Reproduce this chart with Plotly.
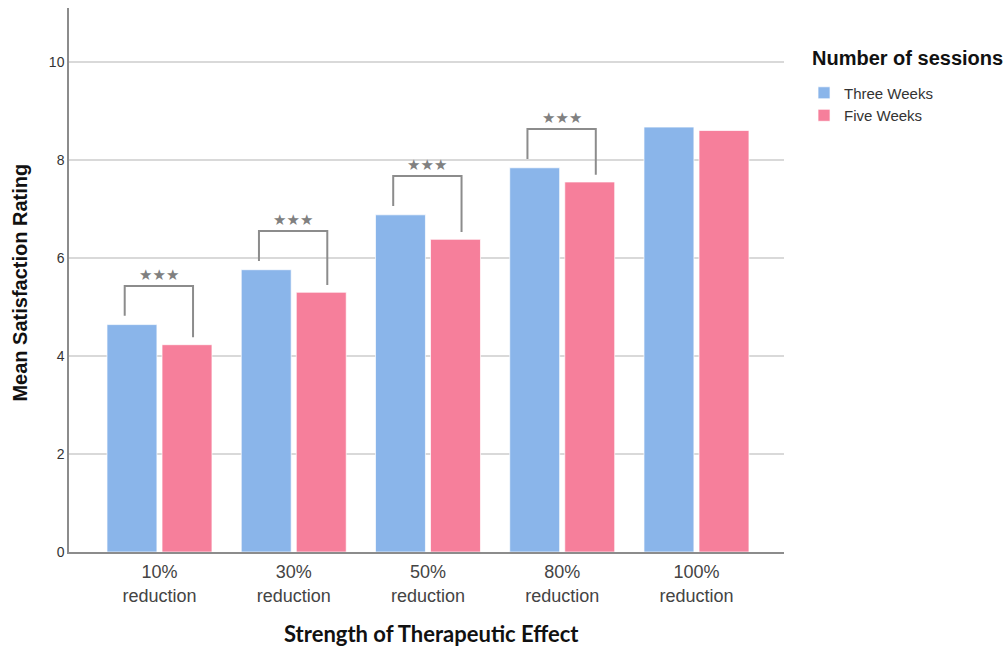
import plotly.graph_objects as go

# Mean satisfaction rating by strength of therapeutic effect and number of sessions
categories = ["10%<br>reduction", "30%<br>reduction", "50%<br>reduction",
              "80%<br>reduction", "100%<br>reduction"]
three_weeks = [4.64, 5.76, 6.88, 7.84, 8.67]
five_weeks = [4.23, 5.30, 6.38, 7.55, 8.60]
significant = [True, True, True, True, False]
y_ticks = [0, 2, 4, 6, 8, 10]

BLUE = "#8AB5EA"
PINK = "#F67F9B"
GREY_LINE = "#8c8c8c"
BAR_W = 0.372
OFFSET_A = -0.391
OFFSET_B = 0.019

x_pos = list(range(len(categories)))

fig = go.Figure()
fig.add_trace(go.Bar(
    x=x_pos, y=three_weeks, name="Three Weeks",
    marker=dict(color=BLUE, line=dict(color="rgba(255,255,255,0.7)", width=1)),
    width=BAR_W, offset=OFFSET_A,
))
fig.add_trace(go.Bar(
    x=x_pos, y=five_weeks, name="Five Weeks",
    marker=dict(color=PINK, line=dict(color="rgba(255,255,255,0.7)", width=1)),
    width=BAR_W, offset=OFFSET_B,
))

# significance brackets between the two bars of each group
for i, (a, b, sig) in enumerate(zip(three_weeks, five_weeks, significant)):
    if not sig:
        continue
    left_x, right_x = i - 0.259, i + 0.25
    top = max(a, b) + 0.79
    fig.add_trace(go.Scatter(
        x=[left_x, left_x, right_x, right_x],
        y=[a + 0.18, top, top, b + 0.15],
        mode="lines", line=dict(color=GREY_LINE, width=2),
        showlegend=False, hoverinfo="skip", cliponaxis=False,
    ))
    fig.add_annotation(
        x=(left_x + right_x) / 2, y=top, text="★★★", showarrow=False,
        yanchor="bottom", yshift=0,
        font=dict(family="DejaVu Sans", size=15, color="#808080"),
    )

# axis titles and legend heading
fig.add_annotation(
    text="<b>Mean Satisfaction Rating</b>", xref="paper", yref="paper",
    x=-0.068, y=0.496, textangle=-90, showarrow=False,
    xanchor="center", yanchor="middle",
    font=dict(size=20, color="#111111", family="Liberation Sans, Arial"),
)
fig.add_annotation(
    text="<b>Strength of Therapeutic Effect</b>", xref="paper", yref="paper",
    x=0.507, y=-0.15, showarrow=False, xanchor="center", yanchor="middle",
    font=dict(size=22, color="#111111", family="Lato"),
)
fig.add_annotation(
    text="<b>Number of sessions</b>", xref="paper", yref="paper",
    x=1.036, y=0.909, showarrow=False, xanchor="left", yanchor="middle",
    font=dict(size=20, color="#111111", family="Liberation Sans, Arial"),
)

fig.update_layout(
    width=1007, height=648,
    margin=dict(l=69, r=223, t=8, b=96),
    paper_bgcolor="white", plot_bgcolor="white",
    font=dict(family="Liberation Sans, Arial, sans-serif", color="#444444"),
    showlegend=True,
    legend=dict(
        x=1.028, xanchor="left", y=0.874, yanchor="top",
        font=dict(size=15, color="#333333"),
        tracegroupgap=0,
    ),
    xaxis=dict(
        range=[-0.674, 4.652], tickvals=x_pos, ticktext=categories,
        showgrid=False, zeroline=False, showline=True,
        linecolor=GREY_LINE, linewidth=1.5, ticks="",
        tickfont=dict(size=18, color="#444444"),
        ticklabelstandoff=3,
    ),
    yaxis=dict(
        range=[0, 11.1], tickvals=y_ticks,
        showgrid=True, gridcolor="#d9d9d9", gridwidth=2,
        zeroline=False, showline=True, linecolor=GREY_LINE, linewidth=1.5,
        ticks="", tickfont=dict(size=14, color="#333333"),
    ),
)

fig.write_html("out.html")
